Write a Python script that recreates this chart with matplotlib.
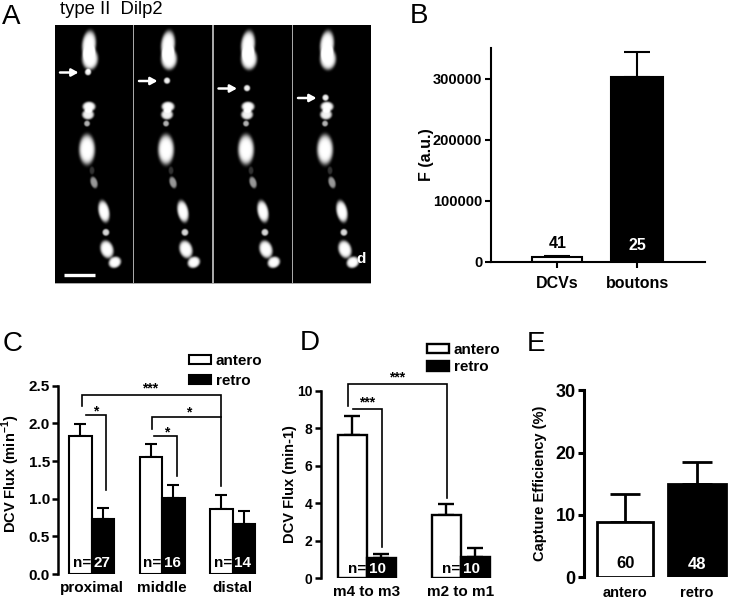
import numpy as np
import matplotlib
matplotlib.use("Agg")
import matplotlib.pyplot as plt
from matplotlib.patches import Rectangle
###############################################################################
plt.rcParams["font.family"] = ["Liberation Sans", "DejaVu Sans"]
plt.rcParams["font.weight"] = "bold"
plt.rcParams["axes.labelweight"] = "bold"
plt.rcParams["mathtext.fontset"] = "custom"
plt.rcParams["mathtext.bf"] = "Liberation Sans:bold"
plt.rcParams["mathtext.rm"] = "Liberation Sans:bold"
###############################################################################
### Data
# Panel B
b_labels = ["DCVs", "boutons"]
b_values = [8000, 302000]
b_errors = [2000, 41000]
b_counts = ["41", "25"]
b_ticks = [0, 100000, 200000, 300000]
# Panel C
c_labels = ["proximal", "middle", "distal"]
c_antero = [1.83, 1.56, 0.86]
c_retro = [0.73, 1.01, 0.67]
c_antero_err = [0.16, 0.16, 0.19]
c_retro_err = [0.14, 0.17, 0.16]
c_counts = ["27", "16", "14"]
c_ticks = [0.0, 0.5, 1.0, 1.5, 2.0, 2.5]
# Panel D
d_labels = ["m4 to m3", "m2 to m1"]
d_antero = [7.65, 3.38]
d_retro = [1.06, 1.15]
d_antero_err = [1.02, 0.57]
d_retro_err = [0.22, 0.48]
d_counts = ["10", "10"]
d_ticks = [0, 2, 4, 6, 8, 10]
# Panel E
e_labels = ["antero", "retro"]
e_values = [8.9, 14.9]
e_errors = [4.5, 3.6]
e_counts = ["60", "48"]
e_ticks = [0, 10, 20, 30]
# Panel A: fluorescent spots as (x, y, rx, ry, tilt, brightness), image pixels
a_spots = [
    (89, 45, 7, 14, 0.1, 1.0), (90, 59, 8, 11, 0.0, 1.0),
    (89, 107, 6.5, 5, 0.0, 1.0), (88, 115, 6, 5, 0.0, 0.95), (87, 124, 3, 3, 0.0, 0.7),
    (87, 150, 8, 15, 0.0, 1.0), (92, 171, 2.5, 4, 0.0, 0.2), (94, 183, 3.5, 6, -0.3, 0.6),
    (104, 212, 5.5, 11, -0.2, 1.0), (106, 233, 3.5, 3.5, 0.0, 0.85),
    (107, 250, 6.5, 9, -0.3, 1.0), (115, 263, 6.5, 5.5, -0.5, 1.0),
]
a_moving = [(88, 72.5), (88, 81), (88, 88.5), (87.5, 98)]
a_offsets = [0, 79, 158.5, 238]
###############################################################################
W, H = 730, 601
fig = plt.figure(figsize=(W / 100, H / 100), dpi=100)
canvas = fig.add_axes([0, 0, 1, 1])
canvas.set_xlim(0, W)
canvas.set_ylim(H, 0)
canvas.axis("off")

def make_axes(left, right, top, bottom, ymax, center0, step, yticks, ticklabels, lw=1.5, tick_size=10):
    ax = fig.add_axes([left / W, 1 - bottom / H, (right - left) / W, (bottom - top) / H])
    ax.patch.set_alpha(0)
    ax.set_xlim((left - center0) / step, (right - center0) / step)
    ax.set_ylim(0, ymax)
    for side in ("top", "right", "bottom"):
        ax.spines[side].set_visible(False)
    ax.spines["left"].set_linewidth(lw)
    ax.set_yticks(yticks)
    ax.set_yticklabels(ticklabels)
    ax.tick_params(axis="y", width=lw, length=4, labelsize=tick_size, pad=2)
    ax.tick_params(axis="x", length=0, labelsize=11)
    return ax

def draw_bars(ax, xs, values, errors, color, width, lw, capsize):
    bars = ax.bar(xs, values, width, color=color, edgecolor="black", linewidth=lw, zorder=2)
    ax.errorbar(xs, values, yerr=[np.zeros(len(values)), errors], fmt="none", ecolor="black",
                elinewidth=lw, capsize=capsize, capthick=lw, zorder=1, clip_on=False)
    return bars

def bracket(ax, xs, ys):
    ax.plot(xs, ys, color="black", lw=1.2, clip_on=False, solid_joinstyle="miter", zorder=3)

def flux_legend(ax, handles, left, top, spacing):
    ax.legend(handles, ["antero", "retro"], loc="upper left", bbox_to_anchor=(left / W, 1 - top / H),
              bbox_transform=fig.transFigure, frameon=False, fontsize=11, borderpad=0, borderaxespad=0,
              handlelength=1.45, handleheight=0.6, handletextpad=0.3, labelspacing=spacing)

#------------------------------------------------------------------------------
### Panel A
yy, xx = np.mgrid[25.5:283.5:516j, 55:133:156j]
canvas.add_patch(Rectangle((54.5, 25), 316.5, 259, facecolor="#a8a8a8", edgecolor="none", zorder=0))
for offset, (mx, my) in zip(a_offsets, a_moving):
    img = np.zeros(xx.shape)
    for x, y, rx, ry, tilt, level in a_spots + [(mx, my, 3.2, 3.2, 0.0, 0.95)]:
        dx = xx - x
        dy = yy - y
        u = dx * np.cos(tilt) + dy * np.sin(tilt)
        v = -dx * np.sin(tilt) + dy * np.cos(tilt)
        img += level * np.exp(-((u / rx) ** 2 + (v / ry) ** 2) ** 3)
    left = 55 + offset
    canvas.imshow(np.clip(img, 0, 1), cmap="gray", vmin=0, vmax=1, aspect="auto",
                  extent=(left, left + 78, 283.5, 25.5), interpolation="bilinear", zorder=1)
canvas.set_xlim(0, W)
canvas.set_ylim(H, 0)
for offset, (mx, my) in zip(a_offsets, a_moving):
    canvas.annotate("", xy=(78.5 + offset, my), xytext=(60 + offset, my),
                    arrowprops=dict(arrowstyle="-|>,head_width=0.22,head_length=0.4", color="white", lw=1.8,
                                    shrinkA=0, shrinkB=0), zorder=3)
canvas.plot([63.5, 94.5], [274.8, 274.8], color="white", lw=2.4, solid_capstyle="butt", zorder=3)
canvas.text(361, 259, "d", color="white", fontsize=11, ha="center", va="center", zorder=3)
canvas.text(60, 10, "type II  Dilp2", fontsize=13.3, fontweight="normal", ha="left", va="center")

for letter, x, y in [("A", 2, 17), ("B", 410, 16), ("C", 3, 344), ("D", 300, 343), ("E", 527, 344)]:
    canvas.text(x, y, letter, fontsize=20, fontweight="normal", ha="left", va="center")

#------------------------------------------------------------------------------
### Panel B
axb = make_axes(490.7, 705, 48, 261.7, 350000, 557.3, 80, b_ticks, [str(t) for t in b_ticks], tick_size=10.5)
axb.spines["bottom"].set_visible(True)
axb.spines["bottom"].set_linewidth(1.5)
axb.set_xticks(range(2))
axb.set_xticklabels(b_labels, fontsize=11.5)
axb.tick_params(axis="x", length=4, width=1.5, pad=6)
draw_bars(axb, [0], b_values[:1], b_errors[:1], "white", 0.63, 1.5, 9.5)
draw_bars(axb, [1], b_values[1:], b_errors[1:], "black", 0.65, 1.5, 9.5)
axb.set_ylabel("F (a.u.)", fontsize=11.5)
axb.yaxis.set_label_coords((434 - 490.7) / 214.3, 0.5)
axb.text(0, 30000, b_counts[0], fontsize=11.5, ha="center", va="center")
axb.text(1, 27000, b_counts[1], fontsize=11.5, color="white", ha="center", va="center", zorder=4)

#------------------------------------------------------------------------------
### Panel C
axc = make_axes(58.3, 262, 385.7, 574, 2.5, 91.7, 70.5, c_ticks, [f"{t:.1f}" for t in c_ticks], lw=1.8, tick_size=11)
w = 0.32
g = np.arange(3)
c1 = draw_bars(axc, g - w / 2, c_antero, c_antero_err, "white", w, 1.5, 4.5)
c2 = draw_bars(axc, g + w / 2, c_retro, c_retro_err, "black", w, 1.5, 4.5)
axc.set_xticks(g)
axc.set_xticklabels(c_labels, fontsize=11)
axc.tick_params(axis="x", pad=5)
axc.set_ylabel(r"DCV Flux (min$^{\mathbf{-1}}$)", fontsize=10.5)
axc.yaxis.set_label_coords((22 - 58.3) / 203.7, 0.53)
bracket(axc, [-0.133, -0.133, 1.835, 1.835], [2.23, 2.38, 2.38, 1.17])
bracket(axc, [-0.085, 0.203, 0.203], [2.11, 2.11, 1.115])
bracket(axc, [0.86, 0.86, 1.835], [1.926, 2.08, 2.08])
bracket(axc, [0.884, 1.206, 1.206], [1.83, 1.83, 1.30])
for x, y, s in [(0.835, 2.46, "***"), (0.05, 2.16, "*"), (1.37, 2.15, "*"), (1.065, 1.88, "*")]:
    axc.text(x, y, s, fontsize=10, ha="center", va="center")
for i, n in enumerate(c_counts):
    axc.text(i - 0.01, 0.15, "n=", fontsize=11, ha="right", va="center", zorder=4)
    axc.text(i + w / 2 - 0.02, 0.15, n, fontsize=11, color="white", ha="center", va="center", zorder=4)
flux_legend(axc, [c1, c2], 189, 354, 0.38)

#------------------------------------------------------------------------------
### Panel D
axd = make_axes(320.7, 500, 390.7, 578.3, 10, 366.7, 94, d_ticks, [str(t) for t in d_ticks], lw=1.8)
w = 0.31
g = np.arange(2)
d1 = draw_bars(axd, g - w / 2, d_antero, d_antero_err, "white", w, 1.7, 5.5)
d2 = draw_bars(axd, g + w / 2, d_retro, d_retro_err, "black", w, 1.7, 5.5)
axd.set_xticks(g)
axd.set_xticklabels(d_labels, fontsize=11)
axd.tick_params(axis="x", pad=5)
axd.set_ylabel("DCV Flux (min-1)", fontsize=10.5)
axd.yaxis.set_label_coords((297 - 320.7) / 179.3, 0.5)
bracket(axd, [-0.196, -0.196, 0.85, 0.85], [9.18, 10.34, 10.34, 4.26])
bracket(axd, [-0.143, 0.16, 0.16], [9.01, 9.01, 1.68])
for x, y, s in [(0.325, 10.7, "***"), (0.0, 9.35, "***")]:
    axd.text(x, y, s, fontsize=10, ha="center", va="center")
for i, n in enumerate(d_counts):
    axd.text(i - 0.005, 0.48, "n=", fontsize=11, ha="right", va="center", zorder=4)
    axd.text(i + 0.12, 0.48, n, fontsize=11, color="white", ha="center", va="center", zorder=4)
flux_legend(axd, [d1, d2], 427, 343, 0.2)

#------------------------------------------------------------------------------
### Panel E
axe = make_axes(584, 729, 390.3, 577.3, 30, 625.3, 71.7, e_ticks, [str(t) for t in e_ticks], lw=2.2, tick_size=13)
draw_bars(axe, [0], e_values[:1], e_errors[:1], "white", 0.78, 2.0, 10.5)
draw_bars(axe, [1], e_values[1:], e_errors[1:], "black", 0.82, 2.0, 10.5)
axe.set_xticks(range(2))
axe.set_xticklabels(e_labels, fontsize=10.5)
axe.tick_params(axis="x", pad=6)
axe.set_ylabel("Capture Efficiency (%)", fontsize=10.5)
axe.yaxis.set_label_coords((547 - 584) / 145, 0.5)
axe.text(0, 2.2, e_counts[0], fontsize=12, ha="center", va="center", zorder=4)
axe.text(1, 2.0, e_counts[1], fontsize=12, color="white", ha="center", va="center", zorder=4)

fig.savefig("out.png", dpi=100)
